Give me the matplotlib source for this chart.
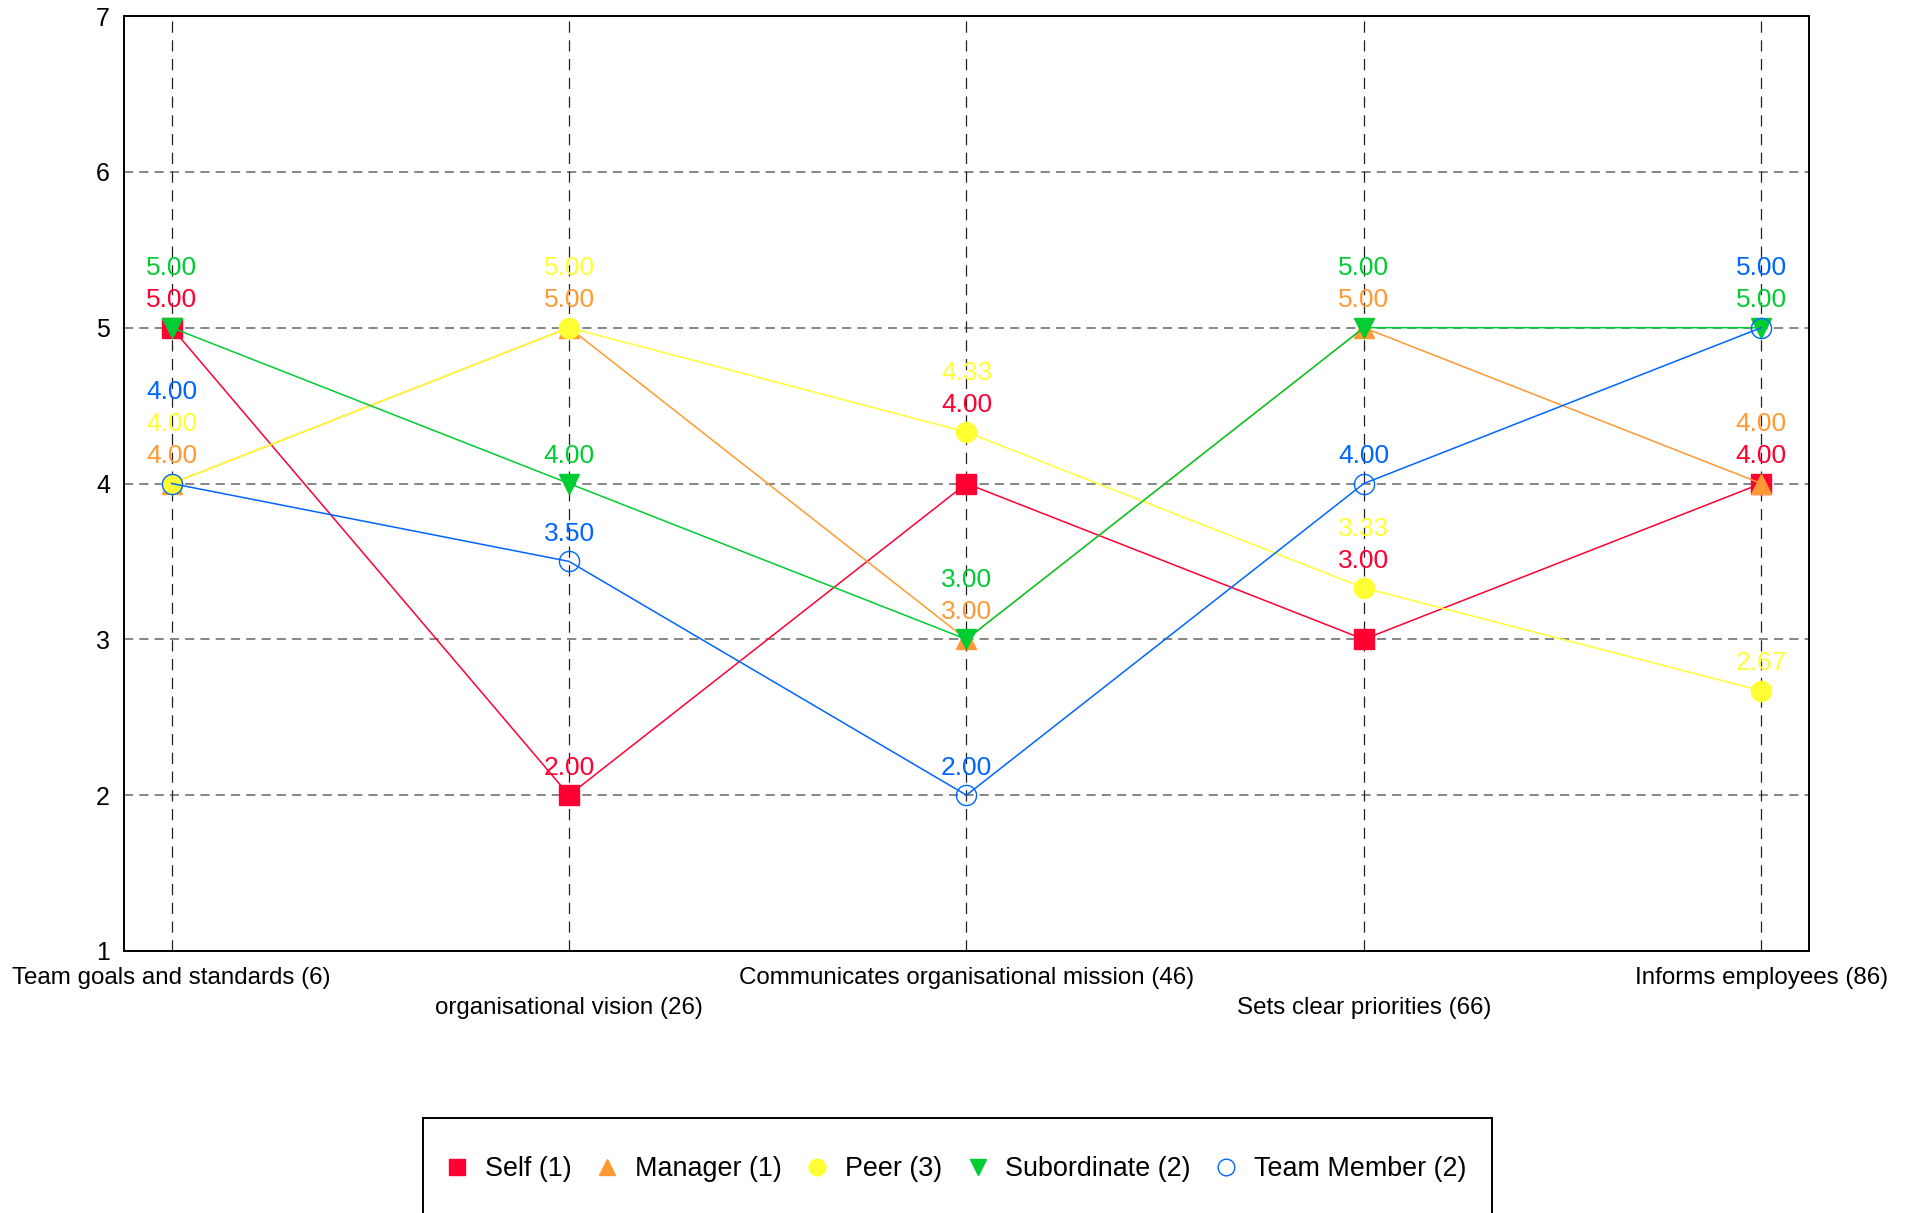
import matplotlib
matplotlib.use('Agg')
import matplotlib.pyplot as plt
from matplotlib.patches import Rectangle
from matplotlib.lines import Line2D

plt.rcParams['font.family'] = ['Liberation Sans', 'DejaVu Sans']

# Competency items and average ratings per rater group
categories = ['Team goals and standards (6)', 'organisational vision (26)',
              'Communicates organisational mission (46)', 'Sets clear priorities (66)',
              'Informs employees (86)']
groups = ['Self (1)', 'Manager (1)', 'Peer (3)', 'Subordinate (2)', 'Team Member (2)']
self_scores = [5.00, 2.00, 4.00, 3.00, 4.00]
manager_scores = [4.00, 5.00, 3.00, 5.00, 4.00]
peer_scores = [4.00, 5.00, 4.33, 3.33, 2.67]
subordinate_scores = [5.00, 4.00, 3.00, 5.00, 5.00]
team_scores = [4.00, 3.50, 2.00, 4.00, 5.00]
scores = [self_scores, manager_scores, peer_scores, subordinate_scores, team_scores]

colors = ['#FF0033', '#FF9933', '#FFFF33', '#00CC33', '#0066FF']
markers = ['s', '^', 'o', 'v', 'o']
filled = [True, True, True, True, False]

fig = plt.figure(figsize=(19.10, 12.13), dpi=100)
ax = fig.add_axes([0.0649, 0.216, 0.8822, 0.7708])

xs = list(range(len(categories)))
for k, vals in enumerate(scores):
    ax.plot(xs, vals, color=colors[k], lw=1.1, marker=markers[k], ms=14.5,
            mfc=colors[k] if filled[k] else 'none', mec=colors[k], mew=1.0,
            zorder=3 + k)

# value labels, stacked so that they don't collide
base_off = 0.13
gap = 0.205
for j in xs:
    order = sorted(range(len(scores)), key=lambda i: (scores[i][j], i))
    prev = -1e9
    for i in order:
        v = scores[i][j]
        near = [scores[m][j] for m in order if v < scores[m][j] < v + 0.4]
        y = max((min(near) if near else v) + base_off, prev + gap)
        prev = y
        ax.text(j, y, f'{v:.2f}', color=colors[i], fontsize=19,
                ha='center', va='baseline', zorder=20)

ax.set_xlim(-0.12, 4.12)
ax.set_ylim(1, 7)
ax.set_yticks(range(1, 8))
ax.set_xticks(xs)
ax.set_xticklabels([])
ax.tick_params(axis='both', length=0, labelsize=18)
ax.tick_params(axis='y', pad=10)

for y in range(2, 7):
    ax.axhline(y, color='#666666', lw=1.1, ls=(0, (6, 4)), zorder=1)
for x in xs:
    ax.axvline(x, color='#222222', lw=0.9, ls=(0, (9, 6)), zorder=1)

for sp in ax.spines.values():
    sp.set_linewidth(1.4)
    sp.set_color('black')

# staggered category labels under the axis
for j, name in enumerate(categories):
    off = -23.8 if j % 2 == 0 else -45.7
    ax.annotate(name, xy=(j, 0), xycoords=('data', 'axes fraction'),
                xytext=(0, off), textcoords='offset points',
                ha='center', va='baseline', fontsize=17.4, annotation_clip=False)

handles = []
for k in range(len(groups)):
    handles.append(Line2D([], [], ls='none', marker=markers[k], ms=12,
                          mfc=colors[k] if filled[k] else 'none',
                          mec=colors[k], mew=1.0))
leg = fig.legend(handles, groups, loc='center', bbox_to_anchor=(0.5, 0.0363),
                 ncol=5, frameon=False, fontsize=19.4, handlelength=1.0,
                 handletextpad=0.52, columnspacing=0.83, borderpad=0,
                 borderaxespad=0)

fig.canvas.draw()
bb = leg.get_window_extent(fig.canvas.get_renderer())
W, H = fig.bbox.width, fig.bbox.height
cy = (bb.y0 + bb.y1) / 2
x0 = bb.x0 - 21
x1 = bb.x1 + 26
top = cy + 51
fig.patches.append(Rectangle((x0 / W, -0.05), (x1 - x0) / W, top / H + 0.05,
                             transform=fig.transFigure, fill=False,
                             edgecolor='black', lw=1.4))

fig.savefig('out.png', dpi=100)
